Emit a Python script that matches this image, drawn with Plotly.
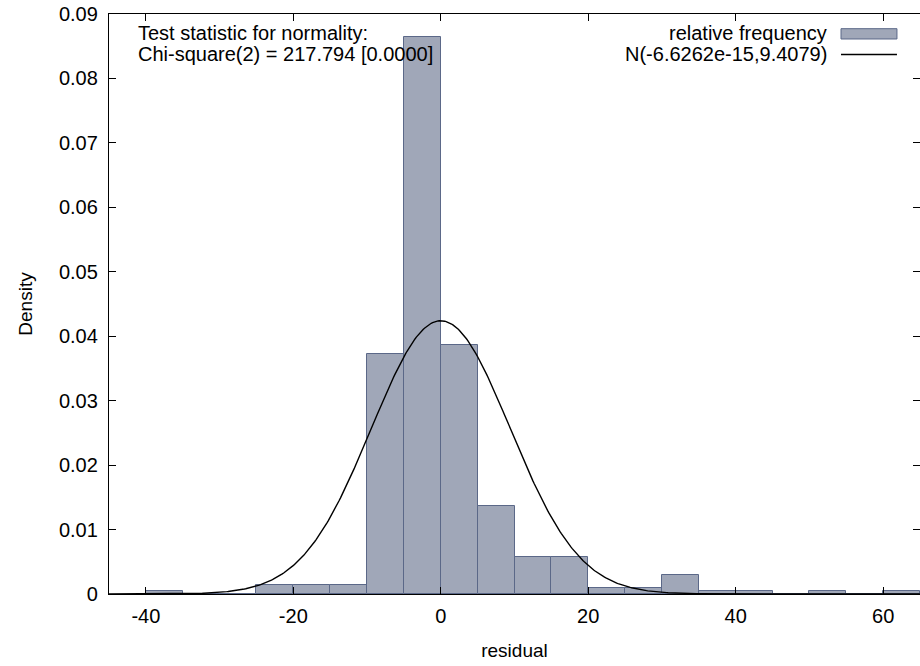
import numpy as np
import plotly.graph_objects as go

# Histogram bins (centers, width 5) and relative-frequency densities
bin_centers = [-37.5, -32.5, -27.5, -22.5, -17.5, -12.5, -7.5, -2.5, 2.5, 7.5,
               12.5, 17.5, 22.5, 27.5, 32.5, 37.5, 42.5, 47.5, 52.5, 57.5, 62.5]
densities = [0.00047, 0.0, 0.0, 0.0014, 0.0014, 0.0014, 0.0373, 0.0865, 0.0387, 0.0137,
             0.0058, 0.0058, 0.00093, 0.00093, 0.0029, 0.00047, 0.00047, 0.0, 0.00047, 0.0, 0.00047]
bin_width = 5

# Normal curve parameters (from legend)
MU = -6.6262e-15
SIGMA = 9.4079

x_ticks = [-40, -20, 0, 20, 40, 60]
y_ticks = [0, 0.01, 0.02, 0.03, 0.04, 0.05, 0.06, 0.07, 0.08, 0.09]

FONT = "Liberation Sans, Arial, Helvetica, sans-serif"
BAR_FILL = "#a0a7b8"
BAR_LINE = "#5b6888"

xs = np.linspace(-45, 65, 600)
pdf = np.exp(-0.5 * ((xs - MU) / SIGMA) ** 2) / (SIGMA * np.sqrt(2 * np.pi))

fig = go.Figure()
fig.add_trace(go.Bar(
    x=bin_centers, y=densities, width=bin_width,
    marker=dict(color=BAR_FILL, line=dict(color=BAR_LINE, width=1)),
    name="relative frequency", showlegend=False,
))
fig.add_trace(go.Scatter(
    x=xs, y=pdf, mode="lines", line=dict(color="black", width=1.4),
    name="N(-6.6262e-15,9.4079)", showlegend=False,
))

axis_common = dict(
    showgrid=False, zeroline=False, showline=True, linecolor="black", linewidth=1.3,
    mirror="ticks", ticks="inside", ticklen=7, tickcolor="black", tickwidth=1,
    tickfont=dict(family=FONT, size=20, color="black"),
)
fig.update_xaxes(range=[-45, 65], tickvals=x_ticks, ticktext=[str(v) for v in x_ticks],
                 ticklabelstandoff=4,
                 title=dict(text="residual", font=dict(family=FONT, size=19, color="black"), standoff=17),
                 **axis_common)
fig.update_yaxes(range=[0, 0.09], tickvals=y_ticks,
                 ticktext=["0" if v == 0 else f"{v:.2f}" for v in y_ticks],
                 ticklabelstandoff=6,
                 title=dict(text="Density", font=dict(family=FONT, size=19, color="black"), standoff=21),
                 **axis_common)

annotations = [
    dict(x=0.0333, y=0.9672, xref="paper", yref="paper", xanchor="left", yanchor="middle",
         text="Test statistic for normality:", showarrow=False,
         font=dict(family=FONT, size=20, color="black")),
    dict(x=0.0333, y=0.931, xref="paper", yref="paper", xanchor="left", yanchor="middle",
         text="Chi-square(2) = 217.794 [0.0000]", showarrow=False,
         font=dict(family=FONT, size=20, color="black")),
    dict(x=0.8878, y=0.9672, xref="paper", yref="paper", xanchor="right", yanchor="middle",
         text="relative frequency", showarrow=False,
         font=dict(family=FONT, size=20, color="black")),
    dict(x=0.8878, y=0.931, xref="paper", yref="paper", xanchor="right", yanchor="middle",
         text="N(-6.6262e-15,9.4079)", showarrow=False,
         font=dict(family=FONT, size=20, color="black")),
]
shapes = [
    dict(type="rect", xref="paper", yref="paper", x0=0.9026, x1=0.9716, y0=0.9569, y1=0.9747,
         fillcolor=BAR_FILL, line=dict(color=BAR_LINE, width=1)),
    dict(type="line", xref="paper", yref="paper", x0=0.9026, x1=0.9716, y0=0.9302, y1=0.9302,
         line=dict(color="black", width=1.4)),
]

fig.update_layout(
    width=920, height=666,
    margin=dict(l=109, r=0, t=14, b=72),
    plot_bgcolor="white", paper_bgcolor="white",
    bargap=0, showlegend=False,
    annotations=annotations, shapes=shapes,
    font=dict(family=FONT, size=20, color="black"),
)

fig.write_html("out.html")
